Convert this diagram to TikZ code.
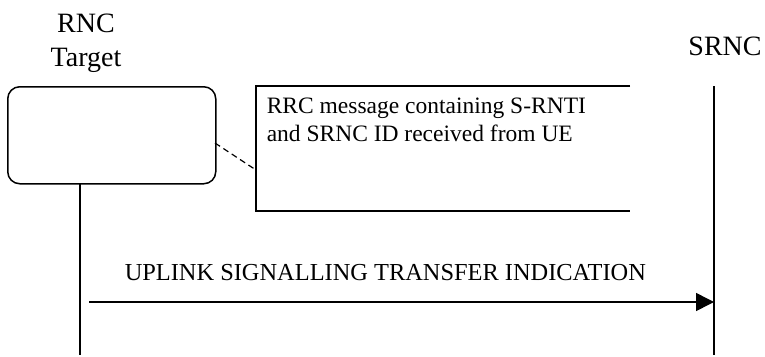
\documentclass[tikz,border=0pt]{standalone}
\usepackage{fontspec}
\setmainfont{Liberation Serif}
\usetikzlibrary{arrows.meta}
\begin{document}
\begin{tikzpicture}[x=1pt,y=-1pt,line width=1.5pt,
  head/.style={font=\fontsize{28}{34}\selectfont, inner sep=0pt, anchor=base},
  body/.style={font=\fontsize{24.4}{29}\selectfont, inner sep=0pt},
  notetext/.style={font=\fontsize{23.5}{28}\selectfont, inner sep=0pt},
  entity/.style={draw, rounded corners=12pt, line width=1.5pt, inner sep=0pt},
  msg/.style={-{Triangle[length=18pt,width=18pt]}, line width=1.5pt},
  link/.style={line width=1.2pt, dash pattern=on 6pt off 4pt}]
\useasboundingbox (0,0) rectangle (765,356);
% headers
\node[head] (rnc) at (86,32) {RNC};
\node[head] (tgt) at (86,66) {Target};
\node[head] (srnc) at (725,55) {SRNC};
% entity box
\node[entity, minimum width=208pt, minimum height=97pt, anchor=north west] (box) at (7,86) {};
% lifelines
\coordinate (lt) at (80,183);
\coordinate (lb) at (80,355);
\coordinate (st) at (714,86);
\coordinate (sb) at (714,355);
\draw (lt) -- (lb);
\draw (st) -- (sb);
% note box (open on the right)
\coordinate (ntr) at (630,86);
\coordinate (ntl) at (256,86);
\coordinate (nbl) at (256,211);
\coordinate (nbr) at (630,211);
\draw (ntr) -- (ntl) -- (nbl) -- (nbr);
\node[notetext, anchor=north west, align=left] (note) at (266,97)
  {RRC message containing S-RNTI\\and SRNC ID received from UE};
% dashed link
\coordinate (ds) at (215,143);
\coordinate (de) at (256,170);
\draw[link] (ds) -- (de);
% message
\coordinate (a1) at (89,302);
\coordinate (a2) at (714,302);
\draw[msg] (a1) -- (a2);
\node[body, anchor=base west] (lbl) at (124,280) {UPLINK SIGNALLING TRANSFER INDICATION};
\end{tikzpicture}
\end{document}
